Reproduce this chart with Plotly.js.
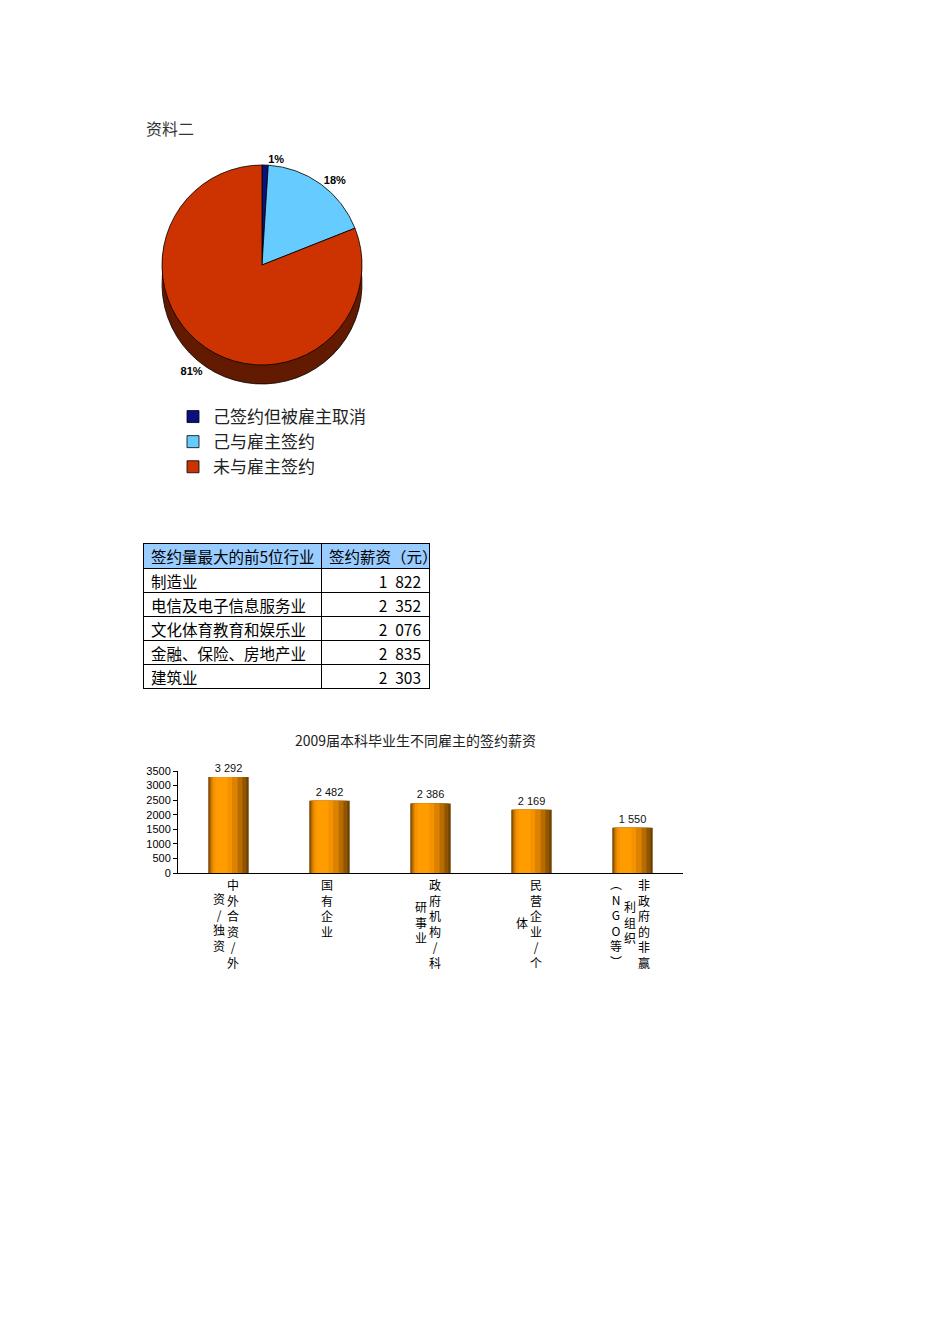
<!DOCTYPE html>
<html>
<head>
<meta charset="utf-8">
<script src="https://cdn.plot.ly/plotly-3.0.1.min.js"></script>
<style>
  body { margin: 0; background: #fff; }
  #chart { width: 950px; height: 1344px; }
</style>
</head>
<body>
<div id="chart"></div>
<script>
// 资料二 – pie
const pieLabels = ['己签约但被雇主取消', '己与雇主签约', '未与雇主签约'];
const pieValues = [1, 18, 81];

// table
const tableHeader = ['签约量最大的前5位行业', '签约薪资（元）'];
const industries = ['制造业', '电信及电子信息服务业', '文化体育教育和娱乐业', '金融、保险、房地产业', '建筑业'];
const industrySalaries = [1822, 2352, 2076, 2835, 2303];

// bar chart
const barTitle = '2009届本科毕业生不同雇主的签约薪资';
const employers = ['中外合资/外资/独资', '国有企业', '政府机构/科研事业', '民营企业/个体', '非政府的非赢利组织（NGO等）'];
const employerSalaries = [3292, 2482, 2386, 2169, 1550];
// vertical label columns, read right to left
const employerLabelColumns = [
    ['中外合资/外', '资/独资'],
    ['国有企业'],
    ['政府机构/科', '研事业'],
    ['民营企业/个', '体'],
    ['非政府的非赢', '利组织', '︵NGO等︶']
];

const W = 950, H = 1344;
const CJK = 'Noto Sans CJK SC, sans-serif';
const NARROW = 'Liberation Sans Narrow, Arial Narrow, Liberation Sans, sans-serif';

function box(x0, x1, y0, y1) {
    return { x: [x0 / W, x1 / W], y: [1 - y1 / H, 1 - y0 / H] };
}
function fmt(v, sep) {
    return String(v).replace(/\B(?=(\d{3})+(?!\d))/g, sep || ' ');
}

const pieColors = ['#0a1080', '#66ccff', '#cc3300'];
const shadowColors = ['#00003c', '#3a7a99', '#621a00'];
const pieCx = 262, pieCy = 265, pieR = 100;
const pct = '%{percent:.0%}';

const traces = [];

// stacked copies below the pie give it the 3D rim; the deepest one carries the big slice label
[19, 15, 11, 7, 3].forEach((dy, i) => {
    traces.push({
        type: 'pie',
        values: pieValues,
        labels: pieLabels,
        sort: false,
        direction: 'clockwise',
        rotation: 0,
        textinfo: i === 0 ? 'percent' : 'none',
        texttemplate: i === 0 ? ['', '', pct] : undefined,
        textposition: 'outside',
        textfont: { family: 'Liberation Sans, Arial, sans-serif', size: 11, color: '#000', weight: 700 },
        hoverinfo: 'skip',
        showlegend: false,
        domain: box(pieCx - pieR, pieCx + pieR, pieCy - pieR + dy, pieCy + pieR + dy),
        marker: {
            colors: shadowColors,
            line: { color: i === 0 ? '#000' : 'rgba(0,0,0,0)', width: i === 0 ? 0.8 : 0 }
        }
    });
});

traces.push({
    type: 'pie',
    values: pieValues,
    labels: pieLabels,
    sort: false,
    direction: 'clockwise',
    rotation: 0,
    textinfo: 'percent',
    texttemplate: [pct, pct, ''],
    textposition: 'outside',
    textfont: { family: 'Liberation Sans, Arial, sans-serif', size: 11, color: '#000', weight: 700 },
    domain: box(pieCx - pieR, pieCx + pieR, pieCy - pieR, pieCy + pieR),
    marker: { colors: pieColors, line: { color: '#000', width: 0.8 } }
});

traces.push({
    type: 'table',
    domain: box(143, 429, 543, 700),
    columnwidth: [178, 108],
    header: {
        values: tableHeader.map(h => [h]),
        align: 'left',
        height: 25,
        fill: { color: '#99ccff' },
        line: { color: '#000', width: 1 },
        font: { family: CJK, size: 15.5, color: '#000' }
    },
    cells: {
        values: [industries, industrySalaries.map(v => fmt(v, '\u2002'))],
        align: ['left', 'right'],
        height: 24,
        fill: { color: '#fff' },
        line: { color: '#000', width: 1 },
        font: { family: CJK, size: 15.5, color: '#000' }
    }
});

// overlaid bars of shrinking width fake the cylinder shading
const barLayers = [
    { w: 0.40, o: -0.200, c: '#6e4000' },
    { w: 0.37, o: -0.192, c: '#8f5500' },
    { w: 0.32, o: -0.182, c: '#b86c00' },
    { w: 0.26, o: -0.170, c: '#dd8200' },
    { w: 0.19, o: -0.155, c: '#f59200' },
    { w: 0.12, o: -0.130, c: '#ff9c00' }
];
barLayers.forEach((l, i) => {
    traces.push({
        type: 'bar',
        x: employers,
        y: employerSalaries,
        width: l.w,
        offset: l.o,
        marker: { color: l.c, line: { width: 0 } },
        text: i === 0 ? employerSalaries.map(v => fmt(v)) : undefined,
        textposition: i === 0 ? 'outside' : 'none',
        textfont: { family: NARROW, size: 11, color: '#111' },
        cliponaxis: false,
        hoverinfo: 'skip',
        showlegend: false
    });
});

const annotations = [
    {
        text: '资料二', xref: 'paper', yref: 'paper',
        x: 144 / W, y: 1 - 128 / H, xanchor: 'left', yanchor: 'middle',
        showarrow: false, font: { family: CJK, size: 16, color: '#333' }
    },
    {
        text: barTitle, xref: 'paper', yref: 'paper',
        x: 415 / W, y: 1 - 740 / H, xanchor: 'center', yanchor: 'middle',
        showarrow: false, font: { family: CJK, size: 14, color: '#222' }
    }
];

// first (rightmost) column hangs from the axis, later columns are centred on it
employerLabelColumns.forEach((cols, i) => {
    const n = cols.length;
    cols.forEach((col, j) => {
        annotations.push({
            text: Array.from(col).join('<br>'),
            xref: 'x', yref: 'y',
            x: employers[i], y: 0,
            xshift: (n - 1) * 7 - j * 14 - 3,
            yshift: j === 0 ? -1 : -49,
            xanchor: 'center', yanchor: j === 0 ? 'top' : 'middle', align: 'center',
            showarrow: false,
            font: { family: CJK, size: 12, color: '#000' }
        });
    });
});

const layout = {
    width: W,
    height: H,
    margin: { l: 0, r: 0, t: 0, b: 0 },
    paper_bgcolor: '#fff',
    plot_bgcolor: '#fff',
    font: { family: CJK, color: '#000' },
    barmode: 'overlay',
    showlegend: true,
    legend: {
        x: 173 / W, y: 1 - 399 / H, xanchor: 'left', yanchor: 'top',
        font: { family: CJK, size: 17, color: '#222' },
        bgcolor: 'rgba(0,0,0,0)'
    },
    xaxis: {
        domain: [178 / W, 683 / W],
        anchor: 'y',
        type: 'category',
        range: [-0.5, 4.5],
        showticklabels: false,
        showline: true,
        linecolor: '#000',
        linewidth: 1,
        ticks: '',
        showgrid: false,
        zeroline: false
    },
    yaxis: {
        domain: [1 - 873 / H, 1 - 771 / H],
        anchor: 'x',
        range: [0, 3500],
        dtick: 500,
        showline: true,
        linecolor: '#000',
        linewidth: 1,
        ticks: 'outside',
        ticklen: 4,
        tickcolor: '#000',
        tickfont: { family: NARROW, size: 11, color: '#000' },
        showgrid: false,
        zeroline: false
    },
    annotations: annotations
};

Plotly.newPlot('chart', traces, layout, { staticPlot: true, displayModeBar: false });
</script>
</body>
</html>
